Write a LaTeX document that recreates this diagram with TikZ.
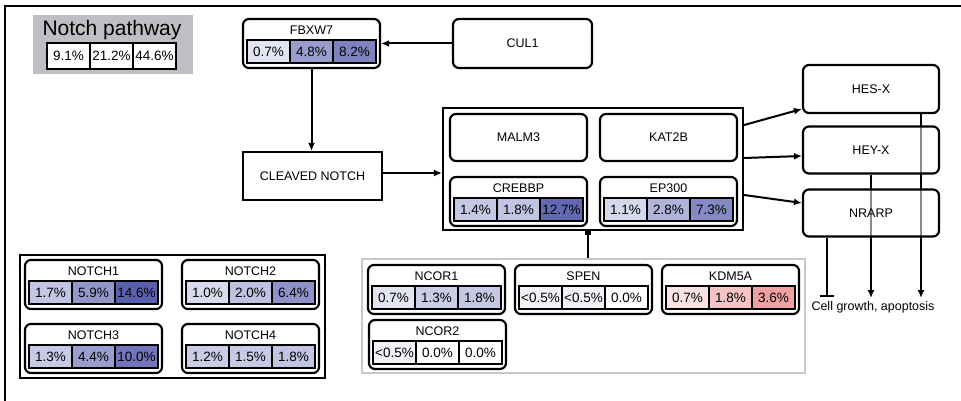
\documentclass[tikz,border=0pt]{standalone}
\usepackage{fontspec}
\setmainfont{Liberation Sans}
\usetikzlibrary{arrows.meta,backgrounds}

\definecolor{nb}{RGB}{80,88,170}
\definecolor{pk}{RGB}{230,110,110}
\definecolor{legendgray}{RGB}{191,191,195}
\definecolor{groupgray}{RGB}{200,200,200}

\tikzset{
  genebox/.style={draw, line width=2.2pt, rounded corners=6pt, minimum width=137pt, minimum height=49pt, inner sep=0pt},
  plainbox/.style={draw, line width=2.2pt, rounded corners=6pt, minimum width=137pt, minimum height=48pt, inner sep=0pt},
  groupbox/.style={draw, line width=2.2pt, inner sep=0pt},
  cell/.style={draw, line width=2pt, minimum width=43pt, minimum height=23pt, inner sep=0pt, font=\fontsize{13.5}{16}\selectfont},
  gtitle/.style={inner sep=0pt},
  seethru/.style={fill=white, fill opacity=0.55, text opacity=1},
  arr/.style={line width=2pt, -{Latex[length=8pt,width=7pt]}},
}

% gene box: [base colour]{name}{left x}{top y}{title}{value/shade list}
\newcommand{\genebox}[6][nb]{%
  \node[genebox] (#2) at ({#3+68.5},{#4+24.5}) {};
  \node[gtitle] (#2-title) at ({#3+68.5},{#4+11}) {#5};
  \foreach \v/\s [count=\i] in {#6}
    \node[cell, fill=#1!\s!white] (#2-\i) at ({#3+25.5+43*(\i-1)},{#4+32.5}) {\v};
}

\begin{document}
\begin{tikzpicture}[x=1pt,y=1pt,yscale=-1,xscale=1,font=\fontsize{12.5}{15}\selectfont]
\useasboundingbox (0,0) rectangle (961,401);

%Frame
\draw[line width=2.2pt] (5,401) -- (5,6) -- (961,6);

%Legend
\node[fill=legendgray, minimum width=160pt, minimum height=59pt, inner sep=0pt] (legend) at (113,44.5) {};
\node[inner sep=0pt, font=\fontsize{21}{24}\selectfont] (legend-title) at (112,30) {Notch pathway};
\foreach \v [count=\i] in {9.1\%,21.2\%,44.6\%}
  \node[cell, fill=white, minimum height=26pt] (legend-\i) at ({68.5+43*(\i-1)},56) {\v};

%Top row
\genebox{fbxw7}{243}{19}{FBXW7}{0.7\%/16, 4.8\%/58, 8.2\%/74}
\node[plainbox, minimum width=139pt, minimum height=49pt] (cul1) at (522.5,43.5) {CUL1};
\node[plainbox, rounded corners=0pt, minimum width=139pt] (cleaved) at (312.5,176) {CLEAVED NOTCH};

%Complex
\node[groupbox, minimum width=300pt, minimum height=122pt] (complex) at (593,169) {};
\node[plainbox, minimum height=47pt] (malm3) at (518.5,137.5) {MALM3};
\node[plainbox, minimum height=47pt] (kat2b) at (668.5,137.5) {KAT2B};
\genebox{crebbp}{450}{177}{CREBBP}{1.4\%/33, 1.8\%/35, 12.7\%/90}
\genebox{ep300}{600}{177}{EP300}{1.1\%/24, 2.8\%/45, 7.3\%/70}

%Targets
\node[plainbox, seethru, minimum width=136pt] (hesx) at (871,89) {HES-X};
\node[plainbox, seethru, minimum width=136pt, minimum height=47pt] (heyx) at (871,150) {HEY-X};
\node[plainbox, seethru, minimum width=136pt, minimum height=47pt] (nrarp) at (871,213) {NRARP};
\node[gtitle, anchor=north] (cg) at (873,301) {Cell growth, apoptosis};

%NOTCH receptors
\node[groupbox, minimum width=305pt, minimum height=123pt] (notchgroup) at (172.5,316.5) {};
\genebox{notch1}{25}{260}{NOTCH1}{1.7\%/34, 5.9\%/62, 14.6\%/95}
\genebox{notch2}{182}{260}{NOTCH2}{1.0\%/22, 2.0\%/37, 6.4\%/65}
\genebox{notch3}{25}{324}{NOTCH3}{1.3\%/32, 4.4\%/58, 10.0\%/82}
\genebox{notch4}{182}{324}{NOTCH4}{1.2\%/30, 1.5\%/32, 1.8\%/35}

%Corepressors
\node[draw=groupgray, line width=2.5pt, minimum width=443pt, minimum height=114pt, inner sep=0pt] (ncgroup) at (583.5,316) {};
\genebox{ncor1}{368}{265}{NCOR1}{0.7\%/16, 1.3\%/30, 1.8\%/33}
\genebox{spen}{515}{265}{SPEN}{<0.5\%/8, <0.5\%/8, 0.0\%/0}
\genebox[pk]{kdm5a}{662}{265}{KDM5A}{0.7\%/20, 1.8\%/40, 3.6\%/65}
\genebox{ncor2}{369}{320}{NCOR2}{<0.5\%/8, 0.0\%/0, 0.0\%/0}

%Straight Lines
\draw[arr] (cul1.west) -- (fbxw7.east);
\draw[arr] (fbxw7.south) -- (fbxw7.south |- cleaved.north);
\draw[arr] ([yshift=-3pt]cleaved.east) -- ([yshift=-3pt]cleaved.east -| complex.west);
\draw[arr] ([yshift=-44pt]complex.east) -- ([yshift=20pt]hesx.west);
\draw[arr] ([yshift=-11pt]complex.east) -- ([yshift=6pt]heyx.west);
\draw[arr] ([yshift=26pt]complex.east) -- ([yshift=-10pt]nrarp.west);
\draw[line width=2pt, -{Square[length=4pt,width=6pt]}] ([xshift=-5pt]complex.south |- ncgroup.north) -- ([xshift=-5pt]complex.south);

\begin{pgfonlayer}{background}
\draw[arr] (heyx.south) -- ([yshift=-3pt]heyx.south |- cg.north);
\draw[arr] ([xshift=50pt]hesx.south) -- ([xshift=50pt,yshift=-3pt]hesx.south |- cg.north);
\end{pgfonlayer}
\draw[line width=2pt, -{Bar[width=14pt,line width=2.4pt]}] ([xshift=-44pt]nrarp.south) -- ([xshift=-44pt,yshift=-4pt]nrarp.south |- cg.north);
\end{tikzpicture}
\end{document}
